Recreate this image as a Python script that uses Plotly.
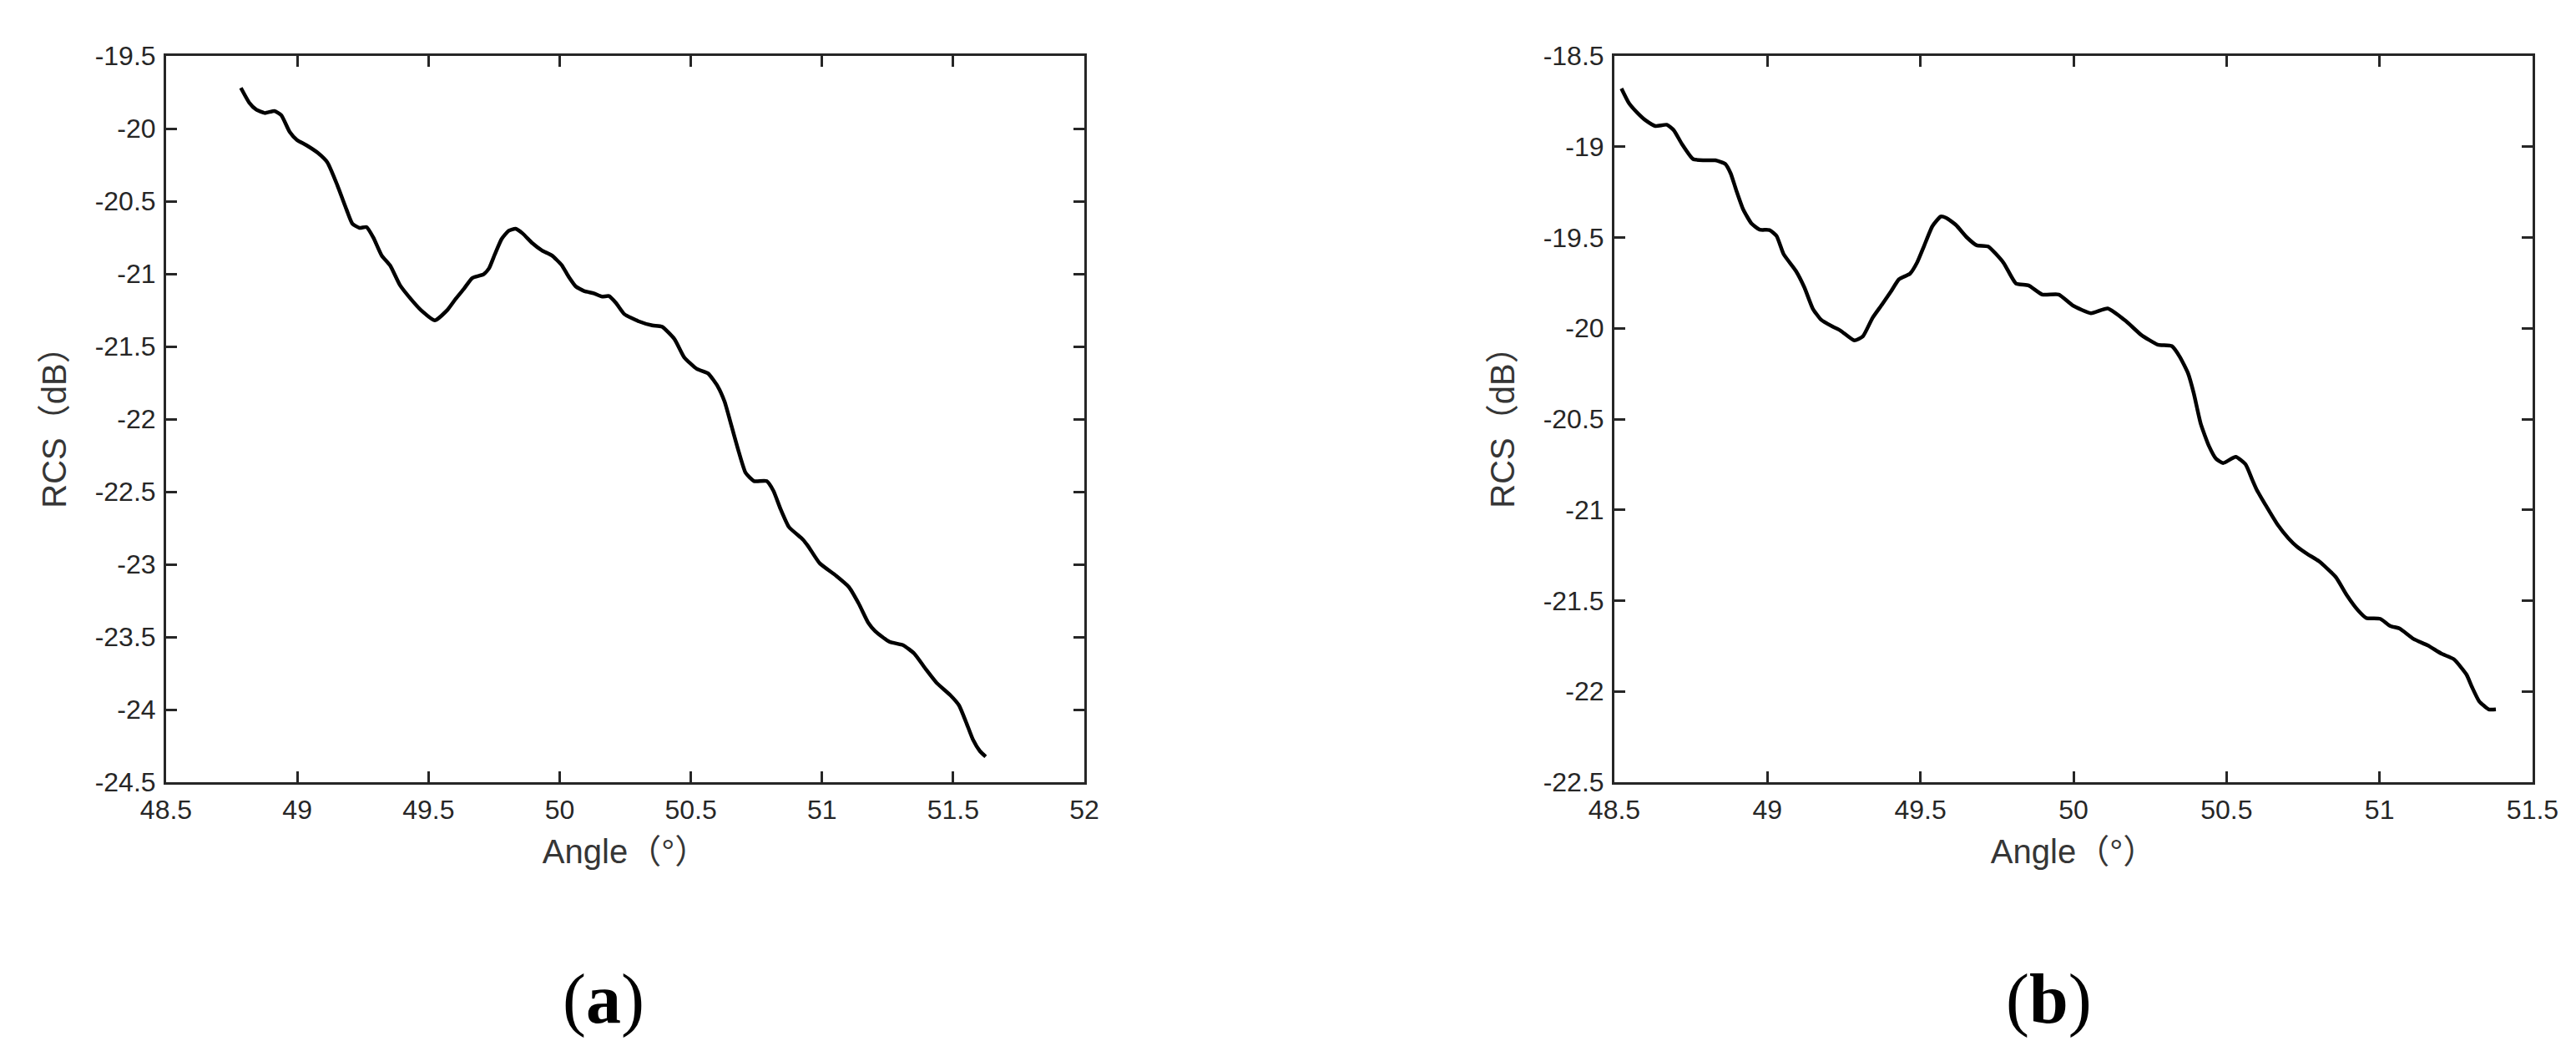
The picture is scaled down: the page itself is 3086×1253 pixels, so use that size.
import plotly.graph_objects as go
from plotly.subplots import make_subplots

# (a) 曲线数据：角度 / RCS
a_angle = [48.785, 48.817, 48.844, 48.876, 48.913, 48.939, 48.971, 48.998, 49.035, 49.078,
           49.115, 49.152, 49.184, 49.210, 49.237, 49.264, 49.290, 49.322, 49.354, 49.391,
           49.428, 49.471, 49.524, 49.572, 49.604, 49.636, 49.667, 49.710, 49.731, 49.753,
           49.779, 49.806, 49.832, 49.859, 49.896, 49.933, 49.970, 50.008, 50.034, 50.061,
           50.093, 50.130, 50.162, 50.188, 50.215, 50.247, 50.300, 50.353, 50.390, 50.438,
           50.475, 50.523, 50.566, 50.603, 50.629, 50.656, 50.683, 50.709, 50.741, 50.789,
           50.815, 50.842, 50.874, 50.927, 50.948, 50.991, 51.054, 51.102, 51.140, 51.177,
           51.203, 51.257, 51.310, 51.352, 51.395, 51.437, 51.490, 51.522, 51.549, 51.576,
           51.602, 51.624]
a_rcs = [-19.720, -19.822, -19.870, -19.893, -19.879, -19.908, -20.023, -20.077, -20.115, -20.167,
         -20.234, -20.387, -20.540, -20.655, -20.684, -20.678, -20.751, -20.875, -20.943, -21.077,
         -21.163, -21.249, -21.320, -21.249, -21.172, -21.101, -21.029, -21.004, -20.962, -20.866,
         -20.760, -20.703, -20.690, -20.722, -20.789, -20.840, -20.873, -20.940, -21.019, -21.086,
         -21.119, -21.134, -21.157, -21.153, -21.201, -21.278, -21.326, -21.355, -21.364, -21.450,
         -21.575, -21.655, -21.686, -21.776, -21.881, -22.053, -22.226, -22.370, -22.427, -22.427,
         -22.494, -22.619, -22.743, -22.829, -22.877, -22.992, -23.079, -23.155, -23.270, -23.404,
         -23.461, -23.533, -23.557, -23.615, -23.720, -23.816, -23.902, -23.970, -24.085, -24.209,
         -24.286, -24.324]

# (b) 曲线数据
b_angle = [48.523, 48.548, 48.575, 48.603, 48.634, 48.671, 48.694, 48.721, 48.757, 48.793,
           48.830, 48.862, 48.880, 48.898, 48.921, 48.948, 48.975, 49.007, 49.030, 49.053,
           49.093, 49.121, 49.148, 49.175, 49.212, 49.239, 49.284, 49.312, 49.343, 49.375,
           49.403, 49.430, 49.466, 49.489, 49.512, 49.539, 49.566, 49.584, 49.616, 49.652,
           49.684, 49.721, 49.771, 49.812, 49.853, 49.898, 49.952, 49.998, 50.057, 50.112,
           50.171, 50.221, 50.275, 50.321, 50.348, 50.375, 50.393, 50.416, 50.443, 50.466,
           50.489, 50.530, 50.562, 50.584, 50.598, 50.630, 50.666, 50.702, 50.730, 50.766,
           50.802, 50.857, 50.893, 50.930, 50.957, 51.002, 51.034, 51.066, 51.111, 51.157,
           51.202, 51.243, 51.284, 51.302, 51.325, 51.357, 51.380]
b_rcs = [-18.679, -18.761, -18.813, -18.856, -18.886, -18.879, -18.909, -18.986, -19.068, -19.075,
         -19.075, -19.094, -19.147, -19.239, -19.346, -19.423, -19.457, -19.459, -19.492, -19.592,
         -19.684, -19.776, -19.891, -19.952, -19.990, -20.013, -20.067, -20.044, -19.944, -19.868,
         -19.799, -19.730, -19.699, -19.638, -19.546, -19.438, -19.385, -19.392, -19.431, -19.500,
         -19.543, -19.549, -19.638, -19.753, -19.764, -19.814, -19.814, -19.875, -19.917, -19.891,
         -19.960, -20.036, -20.090, -20.098, -20.159, -20.251, -20.358, -20.527, -20.650, -20.719,
         -20.742, -20.708, -20.749, -20.834, -20.887, -20.980, -21.079, -21.156, -21.202, -21.245,
         -21.283, -21.370, -21.470, -21.554, -21.596, -21.600, -21.639, -21.654, -21.711, -21.746,
         -21.792, -21.823, -21.907, -21.976, -22.053, -22.099, -22.099]

# 坐标轴刻度
a_xticks = [48.5, 49, 49.5, 50, 50.5, 51, 51.5, 52]
a_yticks = [-24.5, -24, -23.5, -23, -22.5, -22, -21.5, -21, -20.5, -20, -19.5]
b_xticks = [48.5, 49, 49.5, 50, 50.5, 51, 51.5]
b_yticks = [-22.5, -22, -21.5, -21, -20.5, -20, -19.5, -19, -18.5]

panel_labels = ["(<b>a</b>)", "(<b>b</b>)"]
x_title = "Angle（°）"
y_title = "RCS（dB）"


def fmt(v):
    # MATLAB 风格刻度文字（普通连字符，不用 unicode 减号）
    return f"{v:g}"


W, H = 3086, 1253
# 绘图区像素位置（左、右、上、下边距）
L, R, T, B = 191, 60, 59, 324
pw = W - L - R
ph = H - T - B

fig = make_subplots(rows=1, cols=2)

fig.add_trace(go.Scatter(x=a_angle, y=a_rcs, mode='lines',
                         line=dict(color='black', width=4.5, shape='spline', smoothing=0.5),
                         showlegend=False), row=1, col=1)
fig.add_trace(go.Scatter(x=b_angle, y=b_rcs, mode='lines',
                         line=dict(color='black', width=4.5, shape='spline', smoothing=0.5),
                         showlegend=False), row=1, col=2)

tick_font = dict(family="Liberation Sans, Arial, sans-serif", size=32, color='#262626')
title_font = dict(family="Liberation Sans, Noto Sans CJK SC, sans-serif", size=40, color='#363636')
axis_style = dict(showline=True, linecolor='#262626', linewidth=3, mirror='ticks',
                  ticks='inside', ticklen=13, tickwidth=3, tickcolor='#262626',
                  showgrid=False, zeroline=False, tickfont=tick_font,
                  ticklabelstandoff=3, automargin=False)

fig.update_xaxes(**axis_style)
fig.update_yaxes(**axis_style)

fig.update_layout(
    xaxis=dict(domain=[0, 1100 / pw], range=[48.5, 52], tickvals=a_xticks,
               ticktext=[fmt(v) for v in a_xticks],
               title=dict(text=x_title, font=title_font, standoff=19)),
    yaxis=dict(domain=[0, 1], range=[-24.5, -19.5], tickvals=a_yticks,
               ticktext=[fmt(v) for v in a_yticks],
               title=dict(text=y_title, font=title_font, standoff=22)),
    xaxis2=dict(domain=[(1926 - L) / pw, 1], range=[48.5, 51.5], tickvals=b_xticks,
                ticktext=[fmt(v) for v in b_xticks],
                title=dict(text=x_title, font=title_font, standoff=19)),
    yaxis2=dict(domain=[0, 1], range=[-22.5, -18.5], tickvals=b_yticks,
                ticktext=[fmt(v) for v in b_yticks],
                title=dict(text=y_title, font=title_font, standoff=22)),
    width=W, height=H,
    margin=dict(l=L, r=R, t=T, b=B, autoexpand=False),
    plot_bgcolor='white', paper_bgcolor='white',
    showlegend=False,
)

# 子图标签 (a) (b)，paper 坐标以绘图区为基准
for xpix, lab in zip([714.5, 2446.5], panel_labels):
    fig.add_annotation(x=(xpix - L) / pw, y=(H - B - 1189) / ph, xref='paper', yref='paper',
                       text=lab, showarrow=False, xanchor='center', yanchor='middle',
                       font=dict(family="Liberation Serif, Times New Roman, serif",
                                 size=84, color='black'))

fig.write_html("out.html")
